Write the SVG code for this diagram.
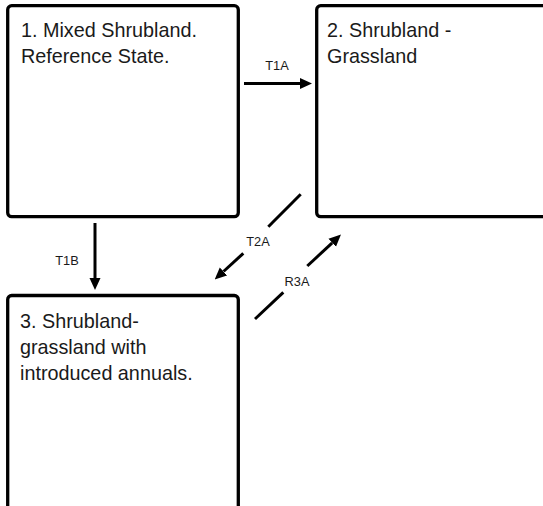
<svg xmlns="http://www.w3.org/2000/svg" width="543" height="506" viewBox="0 0 543 506">
<style>
.box{fill:#fff;stroke:#000;stroke-width:3.3}
.t{font-family:"Liberation Sans",Arial,sans-serif;font-size:19.8px;fill:#1a1a1a}
.lbl{font-family:"Liberation Sans",Arial,sans-serif;font-size:12.8px;fill:#1a1a1a}
.c{stroke:#000;stroke-width:3;fill:none}
</style>
<defs>
<marker id="ah" viewBox="0 -6 12 12" markerWidth="12" markerHeight="12" refX="0" refY="0" orient="auto" markerUnits="userSpaceOnUse">
<path d="M0,-5.5 L12,0 L0,5.5 z" fill="#000"/>
</marker>
</defs>
<rect width="543" height="506" fill="#fff"/>
<g id="node1">
<rect class="box" x="7.7" y="5.7" width="230.6" height="211" rx="4"/>
<text class="t" x="21" y="37">1. Mixed Shrubland.</text>
<text class="t" x="21" y="63">Reference State.</text>
</g>
<g id="node2">
<rect class="box" x="316.7" y="5.7" width="250" height="211" rx="4"/>
<text class="t" x="327" y="37">2. Shrubland -</text>
<text class="t" x="327" y="63">Grassland</text>
</g>
<g id="node3">
<rect class="box" x="7.7" y="295.5" width="230.6" height="240" rx="4"/>
<text class="t" x="20" y="328">3. Shrubland-</text>
<text class="t" x="20" y="354">grassland with</text>
<text class="t" x="20" y="380">introduced annuals.</text>
</g>
<g id="connectors">
<line class="c" x1="244" y1="83.5" x2="300" y2="83.5" marker-end="url(#ah)"/>
<text class="lbl" x="277" y="70" text-anchor="middle">T1A</text>
<line class="c" x1="95" y1="223" x2="95" y2="278" marker-end="url(#ah)"/>
<text class="lbl" x="67" y="265" text-anchor="middle">T1B</text>
<line class="c" x1="300.7" y1="194.3" x2="268.3" y2="226.7"/>
<line class="c" x1="243.3" y1="253.3" x2="223.5" y2="271.5" marker-end="url(#ah)"/>
<text class="lbl" x="258" y="246" text-anchor="middle">T2A</text>
<line class="c" x1="255" y1="319" x2="283.3" y2="292.3"/>
<line class="c" x1="307.3" y1="266" x2="332.2" y2="242.8" marker-end="url(#ah)"/>
<text class="lbl" x="297" y="286" text-anchor="middle">R3A</text>
</g>
</svg>
